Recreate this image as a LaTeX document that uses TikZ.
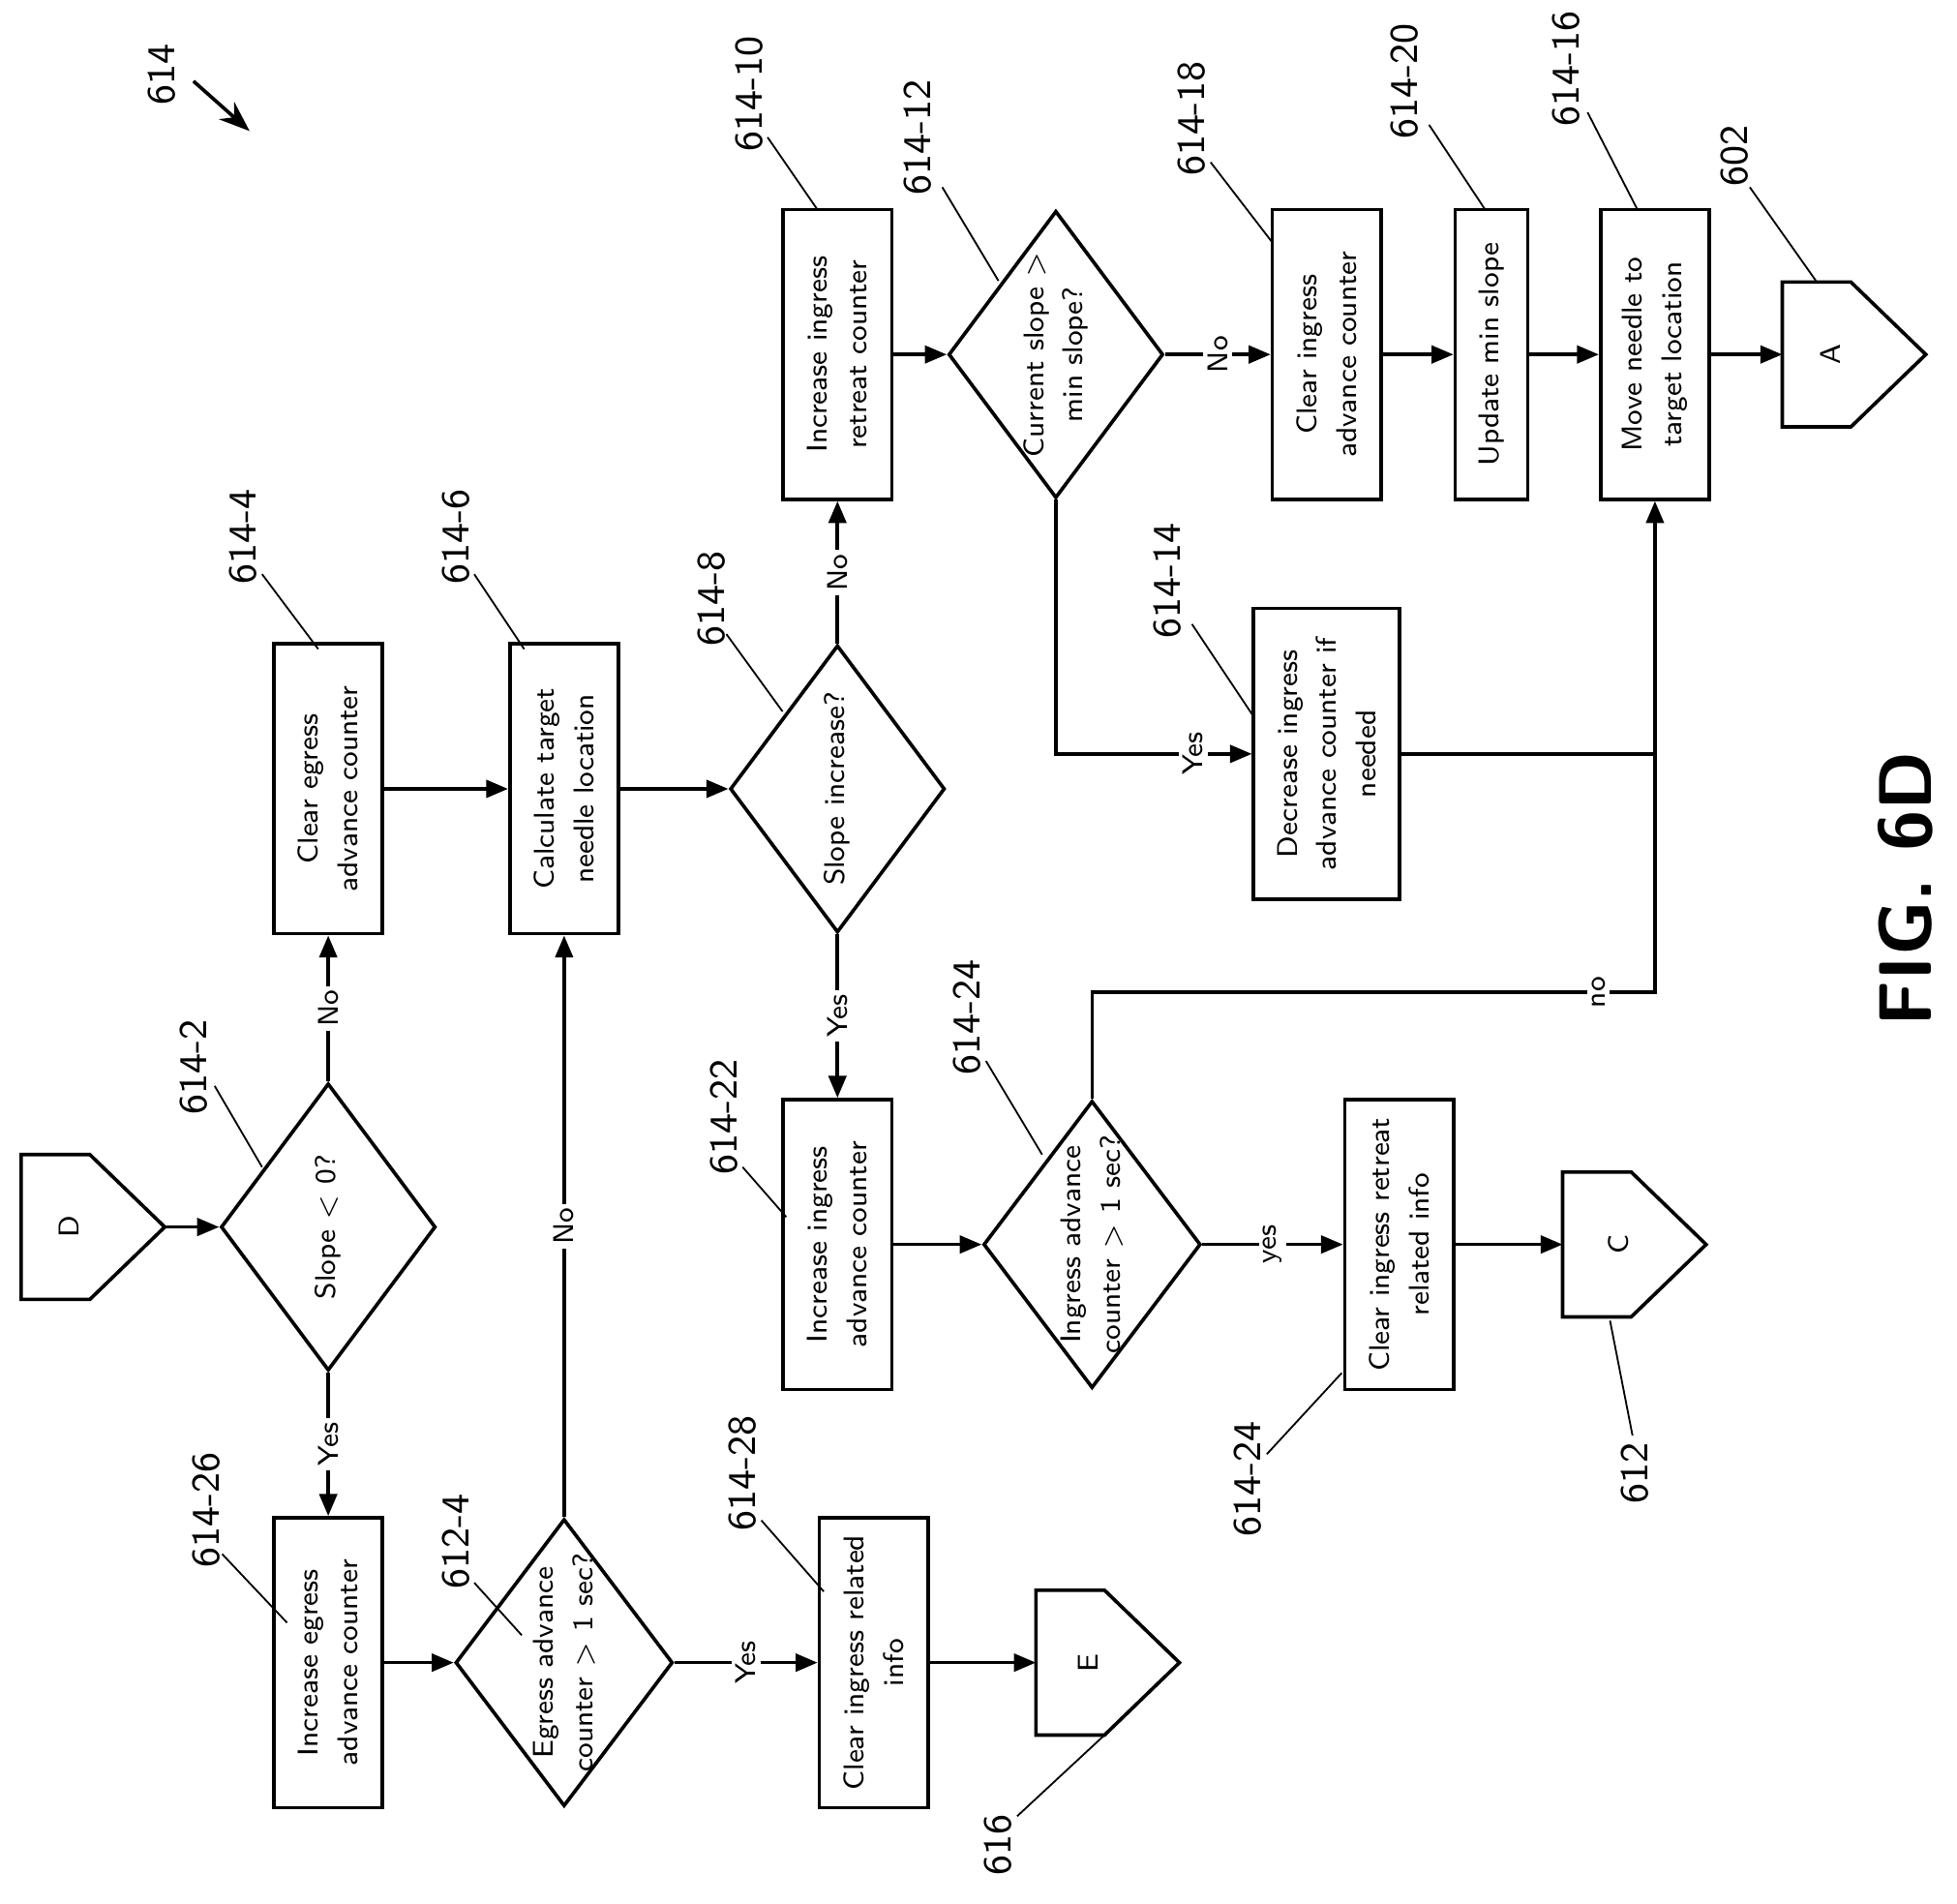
\documentclass[tikz,border=0pt]{standalone}
\usepackage{amsmath}
\usetikzlibrary{shapes.geometric,arrows.meta}
\tikzset{
  box/.style={draw, thick, rectangle, minimum width=0.87cm, minimum height=2.32cm, inner sep=0pt, font=\sffamily\fontsize{6.5}{9}\selectfont},
  dia/.style={draw, thick, diamond, minimum width=1.72cm, minimum height=2.3cm, inner sep=0pt},
  dtxt/.style={rotate=90, align=center, inner sep=0pt, font=\sffamily\fontsize{6.5}{9}\selectfont},
  lab/.style={rotate=90, font=\sffamily\fontsize{9}{10}\selectfont},
  yn/.style={rotate=90, fill=white, inner sep=1pt, font=\sffamily\fontsize{6.5}{8}\selectfont},
  flow/.style={thick, -{Triangle[length=5pt,width=4pt]}},
  lead/.style={thin}
}
\newcommand{\rtext}[2]{\rotatebox{90}{\parbox{#1}{\centering #2}}}
\newcommand{\offpage}[3]{% name, center x, center y
  \draw[thick] (#2-58,#3-58) -- (#2-3,#3-58) -- (#2+57,#3) -- (#2-3,#3+58) -- (#2-58,#3+58) -- cycle;
  \coordinate (#1in) at (#2-58,#3);
  \coordinate (#1out) at (#2+57,#3);}
\begin{document}
\begin{tikzpicture}[x=0.01cm, y=-0.01cm]
      \useasboundingbox (0,0) rectangle (1568,1525);
      % connectors on page
      \offpage{D}{75}{983}
      \node[dtxt] (dl) at (55,983) {D};
      \offpage{A}{1486}{284}
      \node[dtxt] (al) at (1467,284) {A};
      \offpage{C}{1310}{997}
      \node[dtxt] (cl) at (1297,997) {C};
      \offpage{E}{888}{1332}
      \node[dtxt] (el) at (872,1332) {E};
      % steps
      \node[dia] (s2) at (263,983) {};
      \node[dtxt] at (s2) {Slope $<$ 0?};
      \node[box] (s4) at (263,632) {\rtext{2cm}{Clear egress advance counter}};
      \node[box] (s6) at (452,632) {\rtext{2cm}{Calculate target needle location}};
      \node[dia] (s8) at (671,632) {};
      \node[dtxt] at (s8) {Slope increase?};
      \node[box] (s10) at (671,284) {\rtext{2cm}{Increase ingress\\retreat counter}};
      \node[dia] (s12) at (846,284) {};
      \node[dtxt] at (s12) {Current slope $>$\\min slope?};
      \node[box] (s18) at (1063,284) {\rtext{2cm}{Clear ingress\\advance counter}};
      \node[box, minimum width=0.58cm] (s20) at (1195,284) {\rtext{2.2cm}{Update min slope}};
      \node[box] (s16) at (1326,284) {\rtext{2cm}{Move needle to\\target location}};
      \node[box, minimum width=1.17cm, minimum height=2.33cm] (s14) at (1063,604) {\rtext{2cm}{Decrease ingress advance counter if needed}};
      \node[box] (s22) at (671,997) {\rtext{2cm}{Increase ingress\\advance counter}};
      \node[dia, minimum width=1.74cm] (s24) at (875,997) {};
      \node[dtxt] at (s24) {Ingress advance\\counter $>$ 1 sec?};
      \node[box] (s24b) at (1121,997) {\rtext{2.2cm}{Clear ingress retreat\\related info}};
      \node[box] (s26) at (263,1332) {\rtext{2cm}{Increase egress\\advance counter}};
      \node[dia, minimum width=1.74cm] (e4) at (452,1332) {};
      \node[dtxt] at (e4) {Egress advance\\counter $>$ 1 sec?};
      \node[box] (s28) at (700,1332) {\rtext{2.2cm}{Clear ingress related\\info}};
      % flow
      \draw[flow] (Dout) -- (s2.west);
      \draw[flow] (s2.north) -- node[yn] {No} (s4.south);
      \draw[flow] (s2.south) -- node[yn] {Yes} (s26.north);
      \draw[flow] (s4.east) -- (s6.west);
      \draw[flow] (s6.east) -- (s8.west);
      \draw[flow] (s8.north) -- node[yn] {No} (s10.south);
      \draw[flow] (s8.south) -- node[yn] {Yes} (s22.north);
      \draw[flow] (s10.east) -- (s12.west);
      \draw[flow] (s12.east) -- node[yn] {No} (s18.west);
      \draw[flow] (s18.east) -- (s20.west);
      \draw[flow] (s20.east) -- (s16.west);
      \draw[flow] (s16.east) -- (Ain);
      \draw[flow] (s12.south) |- node[yn, pos=0.85] {Yes} (s14.west);
      \draw[flow] (s14.east) -| (s16.south);
      \draw[thick] (s24.north) |- node[yn, pos=0.95] {no} (1326,795) -- (1326,604);
      \draw[flow] (s22.east) -- (s24.west);
      \draw[flow] (s24.east) -- node[yn] {yes} (s24b.west);
      \draw[flow] (s24b.east) -- (Cin);
      \draw[flow] (s26.east) -- (e4.west);
      \draw[flow] (e4.north) -- node[yn] {No} (s6.south);
      \draw[flow] (e4.east) -- node[yn] {Yes} (s28.west);
      \draw[flow] (s28.east) -- (Ein);
      % reference numerals
      \node[lab] (r614) at (130,60) {614};
      \draw[thick, -{Stealth[length=7pt]}] (155,65) -- (200,105);
      \node[lab] (r2) at (155,855) {614-2};   \draw[lead] (172,870) -- (210,935);
      \node[lab] (r4) at (195,430) {614-4};   \draw[lead] (210,460) -- (255,520);
      \node[lab] (r6) at (365,430) {614-6};   \draw[lead] (380,460) -- (420,520);
      \node[lab] (r8) at (570,480) {614-8};   \draw[lead] (582,508) -- (627,570);
      \node[lab] (r10) at (600,75) {614-10};  \draw[lead] (615,110) -- (655,168);
      \node[lab] (r12) at (735,110) {614-12}; \draw[lead] (755,150) -- (800,225);
      \node[lab] (r18) at (955,95) {614-18};  \draw[lead] (970,130) -- (1020,195);
      \node[lab] (r20) at (1125,65) {614-20}; \draw[lead] (1145,100) -- (1190,168);
      \node[lab] (r16) at (1255,55) {614-16}; \draw[lead] (1272,90) -- (1312,168);
      \node[lab] (r602) at (1390,125) {602};  \draw[lead] (1402,150) -- (1455,225);
      \node[lab] (r14) at (935,465) {614-14}; \draw[lead] (955,500) -- (1005,575);
      \node[lab] (r22) at (580,895) {614-22}; \draw[lead] (595,935) -- (630,975);
      \node[lab] (r24) at (775,815) {614-24}; \draw[lead] (790,850) -- (835,925);
      \node[lab] (r24b) at (1000,1185) {614-24}; \draw[lead] (1015,1165) -- (1075,1100);
      \node[lab] (r612) at (1310,1180) {612}; \draw[lead] (1308,1150) -- (1290,1058);
      \node[lab] (r26) at (165,1210) {614-26}; \draw[lead] (178,1245) -- (230,1300);
      \node[lab] (r124) at (365,1235) {612-4}; \draw[lead] (380,1268) -- (418,1310);
      \node[lab] (r28) at (595,1180) {614-28}; \draw[lead] (610,1218) -- (660,1275);
      \node[lab] (r616) at (800,1478) {616};  \draw[lead] (815,1455) -- (885,1390);
      \node[rotate=90, font=\fontsize{17}{20}\selectfont\bfseries\sffamily] (fig) at (1527,712) {FIG. 6D};
\end{tikzpicture}
\end{document}
